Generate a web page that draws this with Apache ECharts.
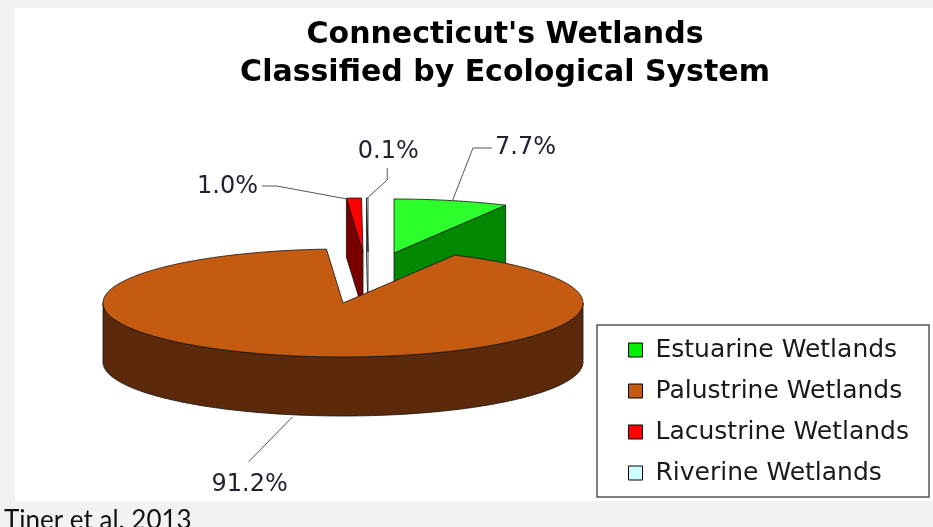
<!DOCTYPE html>
<html>
<head>
<meta charset="utf-8">
<script src="https://cdn.jsdelivr.net/npm/echarts@6/dist/echarts.min.js"></script>
<style>
html,body{margin:0;padding:0;background:#f2f2f0;}
#chart{width:933px;height:527px;}
</style>
</head>
<body>
<div id="chart"></div>
<script>
// ---- data ----
const categories = ['Estuarine Wetlands', 'Palustrine Wetlands', 'Lacustrine Wetlands', 'Riverine Wetlands'];
const values = [7.7, 91.2, 1.0, 0.1];
const titleLines = ["Connecticut's Wetlands", 'Classified by Ecological System'];
const sourceNote = 'Tiner et al. 2013';

// ---- styles / layout ----
const legendColors = ['#00f000', '#c55a11', '#ff0000', '#ccffff'];
const topColors = ['#2cff2c', '#c55a11', '#ff0000', '#ffffff'];
const sideColors = ['#008800', '#5c2a0b', '#7a0000', '#f4ffff'];
const pie = { cx: 343, cy: 303, rx: 240, ry: 54, depth: 59 };
const explode = [[51, -50], [0, 0], [20, -51], [25, -51]];
const labelCfg = [
  { at: 'top', start: [1, 0], elbow: [21.5, -52.6], end: [40.5, -52.6], text: [43.5, -52.6], align: 'left' },
  { at: 'bottom', start: [-1, 2], elbow: [-45, 47], end: [-45, 47], text: [-44, 70], align: 'center' },
  { at: 'top', start: [-7, 1], elbow: [-77, -12], end: [-92, -12], text: [-96, -11], align: 'right' },
  { at: 'top', start: [0, 0], elbow: [20, -18], end: [20, -30], text: [21, -46], align: 'center' }
];
const drawOrder = [0, 2, 3, 1];

// angles (radians, clockwise from 12 o'clock) derived from values
const total = values.reduce((a, b) => a + b, 0);
const angles = [];
let acc = 0;
values.forEach(v => {
  const a0 = acc / total * Math.PI * 2;
  acc += v;
  angles.push([a0, acc / total * Math.PI * 2]);
});

function pt(ox, oy, a, dz) {
  return [ox + pie.rx * Math.sin(a), oy - pie.ry * Math.cos(a) + (dz || 0)];
}
function arc(ox, oy, a0, a1, dz) {
  const n = Math.max(2, Math.ceil(Math.abs(a1 - a0) / (Math.PI / 180)));
  const out = [];
  for (let k = 0; k <= n; k++) out.push(pt(ox, oy, a0 + (a1 - a0) * k / n, dz));
  return out;
}
const stroke = { stroke: '#111', lineWidth: 0.8, lineJoin: 'round' };

function makeRender(i) {
  return function (params, api) {
    const v = api.value(0);
    const a0 = angles[i][0], a1 = angles[i][1];
    const ox = pie.cx + explode[i][0], oy = pie.cy + explode[i][1];
    const d = pie.depth;
    const children = [];
    const face = (pts, fill) => children.push({ type: 'polygon', shape: { points: pts }, style: Object.assign({ fill: fill }, stroke) });
    // radial faces
    if (Math.sin(a0) < -1e-6) face([[ox, oy], pt(ox, oy, a0), pt(ox, oy, a0, d), [ox, oy + d]], sideColors[i]);
    if (Math.sin(a1) > 1e-6) face([[ox, oy], pt(ox, oy, a1), pt(ox, oy, a1, d), [ox, oy + d]], sideColors[i]);
    // outer wall (front half only)
    const s = Math.max(a0, Math.PI / 2), e = Math.min(a1, Math.PI * 1.5);
    if (s < e) face(arc(ox, oy, s, e, 0).concat(arc(ox, oy, e, s, d)), sideColors[i]);
    // top
    face([[ox, oy]].concat(arc(ox, oy, a0, a1, 0)), topColors[i]);
    // label + leader
    const c = labelCfg[i];
    const mid = (a0 + a1) / 2;
    const anc = pt(ox, oy, mid, c.at === 'bottom' ? d : 0);
    const add = (o) => [anc[0] + o[0], anc[1] + o[1]];
    children.push({ type: 'polyline', shape: { points: [add(c.start), add(c.elbow), add(c.end)] }, style: { stroke: '#555', lineWidth: 1, fill: null } });
    const tp = add(c.text);
    children.push({
      type: 'text',
      style: {
        text: v.toFixed(1) + '%', x: tp[0], y: tp[1], fill: '#202230',
        font: '24px "DejaVu Sans"', align: c.align, verticalAlign: 'middle',
        textAlign: c.align, textVerticalAlign: 'middle'
      }
    });
    return { type: 'group', children: children };
  };
}

const chart = echarts.init(document.getElementById('chart'), null, { renderer: 'canvas' });
const series = drawOrder.map(i => ({
  type: 'custom',
  name: categories[i],
  coordinateSystem: 'none',
  itemStyle: { color: legendColors[i], borderColor: '#000', borderWidth: 1 },
  data: [[values[i]]],
  renderItem: makeRender(i),
  silent: true
}));

chart.setOption({
  backgroundColor: '#f2f2f0',
  animation: false,
  title: {
    text: titleLines.join('\n'),
    left: 505, top: 16, textAlign: 'center', padding: 0,
    textStyle: { fontFamily: 'DejaVu Sans', fontWeight: 'bold', fontSize: 30, lineHeight: 38, color: '#000' }
  },
  graphic: [
    { type: 'rect', shape: { x: 15, y: 8, width: 918, height: 493 }, style: { fill: '#ffffff' }, z: -10, silent: true },
    { type: 'text', style: { text: sourceNote, x: 4, y: 534, fill: '#111', font: '26px Lato', textAlign: 'left', textVerticalAlign: 'bottom', align: 'left', verticalAlign: 'bottom' }, silent: true }
  ],
  legend: {
    data: categories,
    orient: 'vertical',
    left: 597, top: 325,
    padding: [12, 20, 11, 31],
    itemWidth: 14, itemHeight: 14, itemGap: 15,
    icon: 'rect',
    selectedMode: false,
    backgroundColor: '#fff',
    borderColor: '#555', borderWidth: 1.5,
    itemStyle: { borderColor: '#000', borderWidth: 1 },
    textStyle: { fontFamily: 'DejaVu Sans', fontSize: 25, lineHeight: 26, color: '#1a1a1a', padding: [0, 0, 0, 8] }
  },
  series: series
});
</script>
</body>
</html>
